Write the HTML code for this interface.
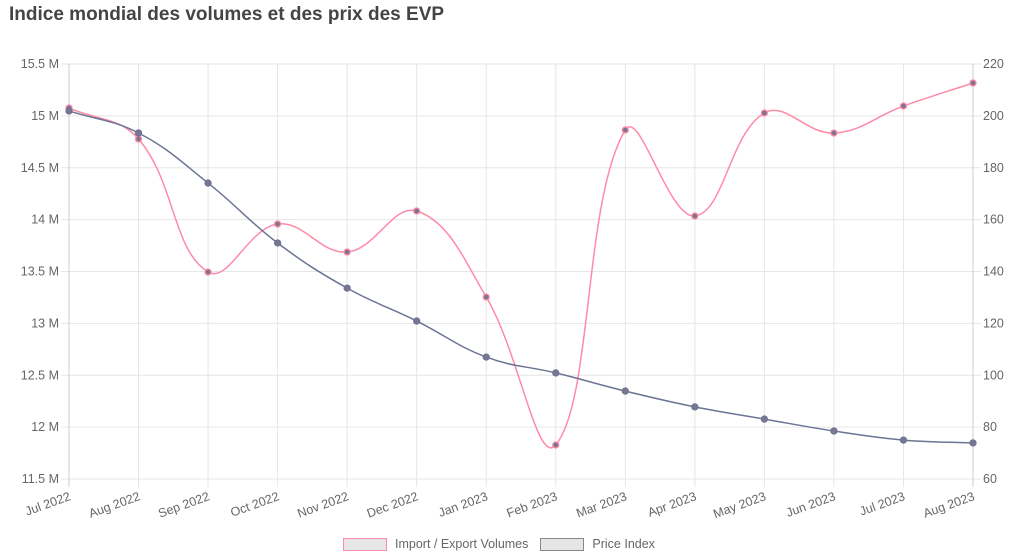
<!DOCTYPE html>
<html><head><meta charset="utf-8"><style>
body{margin:0;background:#fff;width:1024px;height:558px;overflow:hidden;font-family:"Liberation Sans",sans-serif}
h1{position:absolute;left:9px;top:4px;margin:0;font-size:19px;font-weight:bold;color:#444}
svg{position:absolute;left:0;top:0}
text{font-family:"Liberation Sans",sans-serif;fill:#666;font-size:12.5px}
</style></head><body>
<h1>Indice mondial des volumes et des prix des EVP</h1>
<svg id="c" width="1024" height="558"></svg>
<script>
const categories=["Jul 2022","Aug 2022","Sep 2022","Oct 2022","Nov 2022","Dec 2022","Jan 2023","Feb 2023","Mar 2023","Apr 2023","May 2023","Jun 2023","Jul 2023","Aug 2023"];
const volumes=[15.076,14.777,13.495,13.958,13.688,14.083,13.254,11.828,14.864,14.035,15.028,14.835,15.095,15.317];
const prices=[201.9,193.4,174.1,151,133.6,120.9,107,100.9,93.9,87.8,83.1,78.5,75,73.9];
const leftTicks=[11.5,12,12.5,13,13.5,14,14.5,15,15.5];
const rightTicks=[60,80,100,120,140,160,180,200,220];
const svg=document.getElementById('c');const NS='http://www.w3.org/2000/svg';
const X0=69,X1=973,Y0=479,Y1=64;
const x=i=>X0+(X1-X0)*i/(categories.length-1);
const yl=v=>Y0-(v-11.5)/(15.5-11.5)*(Y0-Y1);
const yr=v=>Y0-(v-60)/(220-60)*(Y0-Y1);
function mk(t,a,p){const e=document.createElementNS(NS,t);for(const k in a)e.setAttribute(k,a[k]);(p||svg).appendChild(e);return e;}
const grid=mk('g',{});


leftTicks.forEach((v,i)=>{const y=yl(v);mk('line',{x1:X0-8,x2:X1+8,y1:y,y2:y,stroke:'#e6e6e6'},grid);
const t=mk('text',{x:X0-10,y:y+4,'text-anchor':'end'});t.textContent=(v+' M');


const r=mk('text',{x:X1+10,y:yr(rightTicks[i])+4});r.textContent=rightTicks[i];

});
categories.forEach((c,i)=>{const xx=x(i);mk('line',{x1:xx,x2:xx,y1:Y1,y2:Y0+8,stroke:(i==0||i==categories.length-1)?'#ccc':'#e6e6e6'},grid);
const t=mk('text',{x:xx,y:Y0+21,'text-anchor':'end',transform:`rotate(-20 ${xx} ${Y0+14})`});t.textContent=c;

});
function path(pts){const T=0.4;let d=`M${pts[0][0]},${pts[0][1]}`;
const cp=pts.map((p,i)=>{const pr=pts[Math.max(0,i-1)],nx=pts[Math.min(pts.length-1,i+1)];
const d01=Math.hypot(p[0]-pr[0],p[1]-pr[1]),d12=Math.hypot(nx[0]-p[0],nx[1]-p[1]);
let fa=d01/(d01+d12)||0,fb=d12/(d01+d12)||0;fa*=T;fb*=T;
return{p:[p[0]-fa*(nx[0]-pr[0]),p[1]-fa*(nx[1]-pr[1])],n:[p[0]+fb*(nx[0]-pr[0]),p[1]+fb*(nx[1]-pr[1])]};});
for(let i=1;i<pts.length;i++){d+=` C${cp[i-1].n[0]},${cp[i-1].n[1]} ${cp[i].p[0]},${cp[i].p[1]} ${pts[i][0]},${pts[i][1]}`;}return d;}
function series(vals,f,col,name){const pts=vals.map((v,i)=>[x(i),f(v)]);
const p=mk('path',{d:path(pts),fill:'none',stroke:col,'stroke-width':1.5});


pts.forEach(q=>{const c=mk('circle',{cx:q[0],cy:q[1],r:3,fill:'#7d7590',stroke:col,'stroke-width':1.3});

});}
series(volumes,yl,'#ff8aa8','volumes');
series(prices,yr,'#6b7594','price');
</script>
<div style="position:absolute;top:537px;left:343px;font-size:12.5px;color:#666;display:flex;align-items:center">
<span style="display:flex;align-items:center"><span style="width:42px;height:11px;background:#e6e6e6;border:1.5px solid #ff8aa8;margin-right:8px"></span>Import / Export Volumes</span>
<span style="display:flex;align-items:center;margin-left:12px"><span style="width:42px;height:11px;background:#e6e6e6;border:1.5px solid #888;margin-right:8px"></span>Price Index</span>
</div>
</body></html>
